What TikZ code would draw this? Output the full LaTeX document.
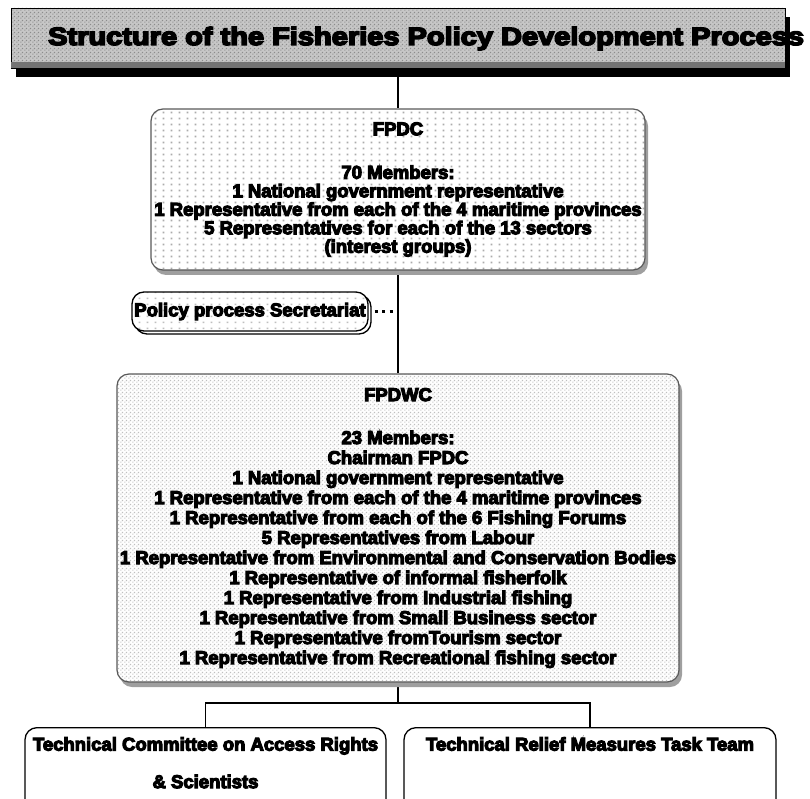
\documentclass[tikz,border=0pt]{standalone}
\usepackage{fontspec}
\setmainfont{Liberation Sans}[BoldFeatures={FakeBold=6}]
\usetikzlibrary{shadows,patterns.meta,backgrounds}

\tikzdeclarepattern{
  name=sparsedots, type=uncolored,
  bounding box={(0pt,0pt) and (8pt,6pt)},
  tile size={(8pt,6pt)},
  code={\pgfpathrectangle{\pgfpoint{3pt}{2pt}}{\pgfpoint{1.8pt}{1.8pt}}\pgfusepath{fill}}
}
\tikzdeclarepattern{
  name=checkdots, type=uncolored,
  bounding box={(0pt,0pt) and (4pt,4pt)},
  tile size={(4pt,4pt)},
  code={\pgfpathrectangle{\pgfpoint{0.4pt}{0.4pt}}{\pgfpoint{1.4pt}{1.4pt}}\pgfpathrectangle{\pgfpoint{2.4pt}{2.4pt}}{\pgfpoint{1.4pt}{1.4pt}}\pgfusepath{fill}}
}

\begin{document}
\begin{tikzpicture}[x=1pt,y=-1pt,
  bodytext/.style={font=\fontsize{18.5}{18.5}\selectfont\bfseries, align=center},
  widetext/.style={font=\fontsize{18.5}{20}\selectfont\bfseries, align=center},
  bigbox/.style={drop shadow={shadow xshift=3pt, shadow yshift=-5pt, fill=gray!75, opacity=1},
    preaction={fill=white}, draw=gray!70!black, line width=1.2pt, rounded corners=12pt, inner sep=0pt},
  lowbox/.style={draw=black, line width=1.3pt, rounded corners=12pt, fill=white, inner sep=0pt},
  conn/.style={draw=black, line width=1.1pt}
]
\useasboundingbox (0,0) rectangle (810,799);
\clip (0,0) rectangle (810,799);

% title
\node[drop shadow={shadow xshift=5pt, shadow yshift=-9pt, fill=black, opacity=1},
  preaction={fill=black!22}, pattern={checkdots}, pattern color=black!45,
  draw=black, line width=0.8pt, minimum width=774pt, minimum height=60pt, inner sep=0pt] (title) at (398,38) {};
\fill[black!55] ([xshift=0.6pt,yshift=6pt]title.south west) rectangle ([xshift=-0.6pt,yshift=0.5pt]title.south east);
\node[anchor=base west, inner sep=0pt] (ttext) at (48,45)
  {\fontsize{25}{25}\selectfont\bfseries\scalebox{1.16}[1]{Structure of the Fisheries Policy Development Process}};

% FPDC
\node[bigbox, pattern={sparsedots}, pattern color=gray!65, minimum width=494pt, minimum height=161pt, bodytext] (fpdc) at (398,189.5)
  {FPDC\\[25pt]70 Members:\\1 National government representative\\1 Representative from each of the 4 maritime provinces\\5 Representatives for each of the 13 sectors\\(interest groups)};

% Secretariat
\node[drop shadow={shadow xshift=3pt, shadow yshift=-3pt, fill=white, draw=black, line width=1.3pt, opacity=1},
  preaction={fill=white}, pattern={sparsedots}, pattern color=gray!50,
  draw=black, line width=1.3pt, rounded corners=12pt, minimum width=236pt, minimum height=39pt, inner sep=0pt, bodytext] (sec) at (250,311.5)
  {Policy process Secretariat};

% FPDWC
\node[bigbox, pattern={checkdots}, pattern color=gray!50, minimum width=562pt, minimum height=308pt, widetext] (fpdwc) at (398,528)
  {FPDWC\\[23pt]23 Members:\\Chairman FPDC\\1 National government representative\\1 Representative from each of the 4 maritime provinces\\1 Representative from each of the 6 Fishing Forums\\5 Representatives from Labour\\1 Representative from Environmental and Conservation Bodies\\1 Representative of informal fisherfolk\\1 Representative from Industrial fishing\\1 Representative from Small Business sector\\1 Representative fromTourism sector\\1 Representative from Recreational fishing sector};

% bottom boxes
\node[lowbox, minimum width=361pt, minimum height=120pt, anchor=north] (tca) at (205.5,727) {};
\node[lowbox, minimum width=372pt, minimum height=120pt, anchor=north] (trm) at (590,727) {};
\node[bodytext, inner sep=0pt, anchor=north] (tcatext) at (205.5,737) {Technical Committee on Access Rights\\[19pt]\& Scientists};
\node[bodytext, inner sep=0pt, anchor=north] (trmtext) at (590,737) {Technical Relief Measures Task Team};

\coordinate (bus) at (398,703);

\begin{pgfonlayer}{background}
\draw[conn] (title.south) -- (fpdc.north);
\draw[conn] (fpdc.south) -- (fpdwc.north);
\draw[conn] (fpdwc.south) -- (bus);
\draw[conn] (tca.north) |- (bus) -| (trm.north);
\end{pgfonlayer}
\draw[line width=3pt, dash pattern=on 3pt off 4.5pt] ([xshift=6pt]sec.east) -- (sec.east -| fpdc.south);
\end{tikzpicture}
\end{document}
